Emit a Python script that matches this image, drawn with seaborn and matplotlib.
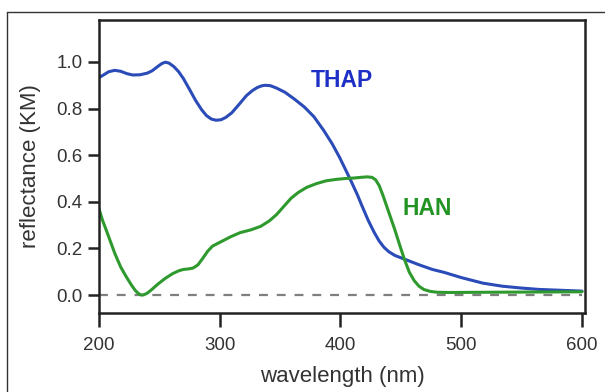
import numpy as np
import matplotlib
matplotlib.use("Agg")
import matplotlib.pyplot as plt
import seaborn as sns
from matplotlib.lines import Line2D

# ---- data ----
thap_nm = [200, 204, 208, 213, 218, 223, 228, 234, 240, 244, 248, 252, 255, 258,
           262, 266, 270, 275, 280, 285, 289, 293, 297, 301, 305, 310, 316, 322,
           327, 331, 335, 338, 342, 347, 354, 362, 370, 378, 386, 393, 399, 404,
           409, 414, 418, 423, 428, 432, 436, 440, 445, 450, 456, 465, 476, 486,
           500, 518, 534, 550, 565, 580, 600]
thap_km = [0.933, 0.945, 0.958, 0.964, 0.960, 0.950, 0.944, 0.945, 0.952, 0.962,
           0.978, 0.993, 0.999, 0.995, 0.980, 0.958, 0.928, 0.882, 0.835, 0.795,
           0.770, 0.755, 0.750, 0.752, 0.762, 0.782, 0.818, 0.855, 0.877, 0.890,
           0.898, 0.900, 0.898, 0.888, 0.870, 0.840, 0.807, 0.765, 0.707, 0.650,
           0.593, 0.540, 0.486, 0.430, 0.380, 0.320, 0.268, 0.232, 0.205, 0.186,
           0.170, 0.160, 0.148, 0.130, 0.110, 0.097, 0.075, 0.051, 0.038, 0.030,
           0.024, 0.021, 0.017]

han_nm = [200, 203, 207, 213, 218, 223, 227, 230, 233, 235, 237, 240, 244, 249,
          255, 261, 266, 270, 274, 278, 282, 286, 290, 294, 300, 309, 317, 326,
          334, 341, 347, 353, 359, 365, 372, 380, 388, 396, 404, 411, 417, 422,
          426, 429, 432, 435, 438, 441, 445, 449, 453, 457, 461, 465, 469, 474,
          480, 490, 520, 560, 600]
han_km = [0.370, 0.320, 0.265, 0.180, 0.120, 0.075, 0.042, 0.020, 0.005, 0.000,
          0.001, 0.008, 0.025, 0.048, 0.072, 0.092, 0.104, 0.110, 0.112, 0.116,
          0.130, 0.158, 0.188, 0.210, 0.226, 0.250, 0.268, 0.280, 0.295, 0.318,
          0.345, 0.380, 0.415, 0.440, 0.462, 0.478, 0.490, 0.496, 0.500, 0.502,
          0.505, 0.507, 0.505, 0.495, 0.470, 0.430, 0.385, 0.340, 0.280, 0.215,
          0.152, 0.098, 0.062, 0.038, 0.024, 0.016, 0.012, 0.011, 0.012, 0.013,
          0.014]

zero_nm = [200, 600]
zero_km = [0.0, 0.0]

thap_color = "#2a4bb8"
han_color = "#2e9a2e"

sns.set_style("white")
plt.rcParams["font.family"] = ["Liberation Sans", "DejaVu Sans"]

fig = plt.figure(figsize=(6.05, 3.92), dpi=100)
ax = fig.add_axes([0.1636, 0.2015, 0.967 - 0.1636, 0.949 - 0.2015])

# outer frame (only top + left edges visible in the reference)
fig.add_artist(Line2D([7 / 605, 7 / 605], [0, 1 - 12 / 392], transform=fig.transFigure,
                      color="#333333", lw=1.0))
fig.add_artist(Line2D([7 / 605, 1], [1 - 12 / 392, 1 - 12 / 392], transform=fig.transFigure,
                      color="#333333", lw=1.0))

sns.lineplot(x=zero_nm, y=zero_km, ax=ax, color="#7f7f7f", lw=1.6,
             linestyle=(0, (4, 4)))
sns.lineplot(x=thap_nm, y=thap_km, ax=ax, color=thap_color, lw=2.2)
sns.lineplot(x=han_nm, y=han_km, ax=ax, color=han_color, lw=2.2)

ax.text(401, 0.92, "THAP", color="#1d2fc4", fontsize=16.5, fontweight="bold",
        ha="center", va="center")
ax.text(472, 0.37, "HAN", color="#239423", fontsize=16.5, fontweight="bold",
        ha="center", va="center")

ax.set_xlim(200, 602.5)
ax.set_ylim(-0.077, 1.18)
ax.set_xticks([200, 300, 400, 500, 600])
ax.set_yticks([0.0, 0.2, 0.4, 0.6, 0.8, 1.0])
ax.set_yticklabels(["0.0", "0.2", "0.4", "0.6", "0.8", "1.0"])

for s in ax.spines.values():
    s.set_color("#222222")
    s.set_linewidth(1.8)

ax.tick_params(axis="x", direction="out", length=10, width=1.8, color="#222222",
               labelsize=13.5, pad=7, labelcolor="#333333", bottom=True)
ax.tick_params(axis="y", direction="out", length=8, width=1.8, color="#222222",
               labelsize=13.5, pad=4, labelcolor="#333333", left=True)

ax.set_xlabel("wavelength (nm)", fontsize=16, color="#333333", labelpad=9)
ax.set_ylabel("reflectance (KM)", fontsize=16, color="#333333", labelpad=11)

fig.savefig("out.png", dpi=100)
